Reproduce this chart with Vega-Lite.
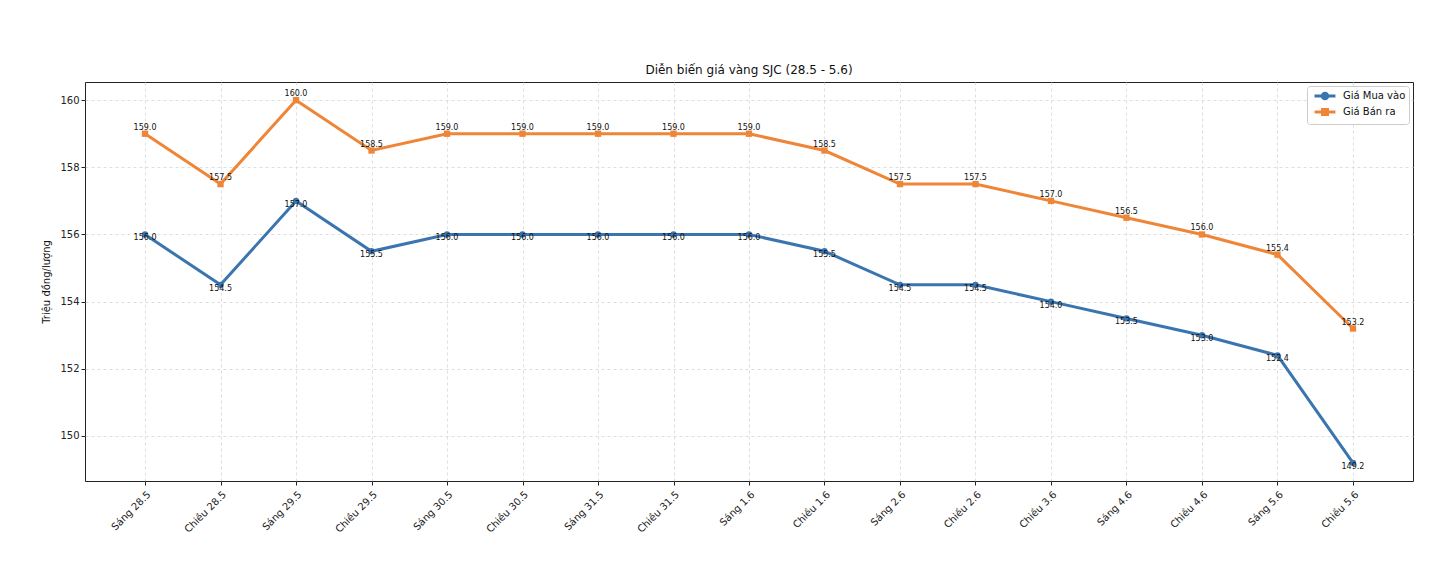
{
  "$schema": "https://vega.github.io/schema/vega-lite/v6.json",
  "width": 1328,
  "height": 399,
  "autosize": {"type": "none"},
  "padding": {"left": 85, "top": 82, "right": 29, "bottom": 83},
  "background": "white",
  "config": {
    "font": "DejaVu Sans",
    "view": {"stroke": "#222", "strokeWidth": 1},
    "axis": {"labelFont": "DejaVu Sans", "titleFont": "DejaVu Sans", "labelColor": "#222", "titleColor": "#111", "tickColor": "#222", "domain": false, "gridColor": "#d6d6d6", "gridDash": [3, 3], "gridWidth": 0.8, "labelFontSize": 10, "titleFontSize": 10, "titleFontWeight": "normal", "tickSize": 4}
  },
  "title": {"text": "Diễn biến giá vàng SJC (28.5 - 5.6)", "fontSize": 12, "fontWeight": "normal", "font": "DejaVu Sans", "color": "#111", "offset": 5},
  "data": {"values": [
    {"t": "Sáng 28.5", "s": "Giá Mua vào", "v": 156.0},
    {"t": "Chiều 28.5", "s": "Giá Mua vào", "v": 154.5},
    {"t": "Sáng 29.5", "s": "Giá Mua vào", "v": 157.0},
    {"t": "Chiều 29.5", "s": "Giá Mua vào", "v": 155.5},
    {"t": "Sáng 30.5", "s": "Giá Mua vào", "v": 156.0},
    {"t": "Chiều 30.5", "s": "Giá Mua vào", "v": 156.0},
    {"t": "Sáng 31.5", "s": "Giá Mua vào", "v": 156.0},
    {"t": "Chiều 31.5", "s": "Giá Mua vào", "v": 156.0},
    {"t": "Sáng 1.6", "s": "Giá Mua vào", "v": 156.0},
    {"t": "Chiều 1.6", "s": "Giá Mua vào", "v": 155.5},
    {"t": "Sáng 2.6", "s": "Giá Mua vào", "v": 154.5},
    {"t": "Chiều 2.6", "s": "Giá Mua vào", "v": 154.5},
    {"t": "Chiều 3.6", "s": "Giá Mua vào", "v": 154.0},
    {"t": "Sáng 4.6", "s": "Giá Mua vào", "v": 153.5},
    {"t": "Chiều 4.6", "s": "Giá Mua vào", "v": 153.0},
    {"t": "Sáng 5.6", "s": "Giá Mua vào", "v": 152.4},
    {"t": "Chiều 5.6", "s": "Giá Mua vào", "v": 149.2},
    {"t": "Sáng 28.5", "s": "Giá Bán ra", "v": 159.0},
    {"t": "Chiều 28.5", "s": "Giá Bán ra", "v": 157.5},
    {"t": "Sáng 29.5", "s": "Giá Bán ra", "v": 160.0},
    {"t": "Chiều 29.5", "s": "Giá Bán ra", "v": 158.5},
    {"t": "Sáng 30.5", "s": "Giá Bán ra", "v": 159.0},
    {"t": "Chiều 30.5", "s": "Giá Bán ra", "v": 159.0},
    {"t": "Sáng 31.5", "s": "Giá Bán ra", "v": 159.0},
    {"t": "Chiều 31.5", "s": "Giá Bán ra", "v": 159.0},
    {"t": "Sáng 1.6", "s": "Giá Bán ra", "v": 159.0},
    {"t": "Chiều 1.6", "s": "Giá Bán ra", "v": 158.5},
    {"t": "Sáng 2.6", "s": "Giá Bán ra", "v": 157.5},
    {"t": "Chiều 2.6", "s": "Giá Bán ra", "v": 157.5},
    {"t": "Chiều 3.6", "s": "Giá Bán ra", "v": 157.0},
    {"t": "Sáng 4.6", "s": "Giá Bán ra", "v": 156.5},
    {"t": "Chiều 4.6", "s": "Giá Bán ra", "v": 156.0},
    {"t": "Sáng 5.6", "s": "Giá Bán ra", "v": 155.4},
    {"t": "Chiều 5.6", "s": "Giá Bán ra", "v": 153.2}
  ]},
  "encoding": {
    "x": {"field": "t", "type": "nominal", "sort": null, "scale": {"type": "point", "padding": 0.795},
      "axis": {"title": null, "labelAngle": -45, "labelAlign": "right", "labelBaseline": "top", "grid": true, "labelPadding": 4}},
    "y": {"field": "v", "type": "quantitative", "scale": {"domain": [148.66, 160.54], "zero": false, "nice": false},
      "axis": {"title": "Triệu đồng/lượng", "values": [150, 152, 154, 156, 158, 160], "grid": true, "titlePadding": 8}}
  },
  "layer": [
    {"mark": {"type": "line", "strokeWidth": 3},
     "encoding": {"color": {"field": "s", "type": "nominal", "scale": {"domain": ["Giá Mua vào", "Giá Bán ra"], "range": ["#3a75af", "#ef8536"]},
       "legend": {"title": null, "orient": "top-right", "offset": 4, "symbolStrokeWidth": 3, "symbolSize": 121, "labelFontSize": 10, "labelColor": "#111", "fillColor": "white", "strokeColor": "#cccccc", "padding": 3, "cornerRadius": 3, "rowPadding": -6, "labelOffset": 19,
         "encode": {
           "symbols": {"update": {
             "xc": {"value": 15},
             "shape": {"signal": "datum.value === 'Giá Bán ra' ? 'M-1.9,0H-0.45M0.45,0H1.9M-0.45,-0.45H0.45V0.45H-0.45Z' : 'M-1.9,0H-0.45M0.45,0H1.9M0.5,0A0.5,0.5,0,1,1,-0.5,0A0.5,0.5,0,1,1,0.5,0Z'"},
             "fill": {"signal": "datum.value === 'Giá Bán ra' ? '#ef8536' : '#3a75af'"}
           }}
         }}}}},
    {"transform": [{"filter": "datum.s === 'Giá Mua vào'"}],
     "mark": {"type": "point", "filled": true, "opacity": 1, "size": 40, "shape": "circle", "color": "#3a75af"}},
    {"transform": [{"filter": "datum.s === 'Giá Bán ra'"}],
     "mark": {"type": "point", "filled": true, "opacity": 1, "size": 40, "shape": "square", "color": "#ef8536"}},
    {"transform": [{"filter": "datum.s === 'Giá Mua vào'"}],
     "mark": {"type": "text", "baseline": "top", "dy": 0, "fontSize": 8, "color": "#111"},
     "encoding": {"text": {"field": "v", "type": "quantitative", "format": ".1f"}}},
    {"transform": [{"filter": "datum.s === 'Giá Bán ra'"}],
     "mark": {"type": "text", "baseline": "bottom", "dy": -2, "fontSize": 8, "color": "#111"},
     "encoding": {"text": {"field": "v", "type": "quantitative", "format": ".1f"}}}
  ]
}
